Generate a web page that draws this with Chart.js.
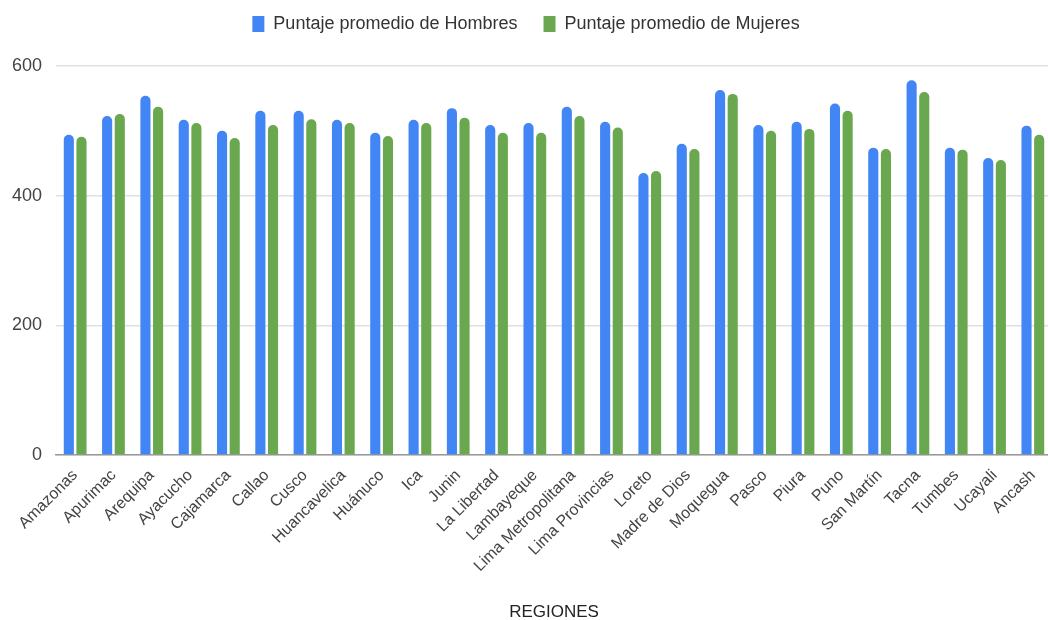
<!DOCTYPE html>
<html>
<head>
<meta charset="utf-8">
<script src="https://cdn.jsdelivr.net/npm/chart.js@4"></script>
<style>
    html, body { margin: 0; padding: 0; background: #fff; overflow: hidden; }
    #wrap { width: 1056px; height: 620px; }
</style>
</head>
<body>
<div id="wrap"><canvas id="barChart"></canvas></div>
<script>
// Datos
const regiones = ["Amazonas", "Apurimac", "Arequipa", "Ayacucho", "Cajamarca", "Callao", "Cusco",
    "Huancavelica", "Huánuco", "Ica", "Junin", "La Libertad", "Lambayeque", "Lima Metropolitana",
    "Lima Provincias", "Loreto", "Madre de Dios", "Moquegua", "Pasco", "Piura", "Puno",
    "San Martín", "Tacna", "Tumbes", "Ucayali", "Ancash"];

const puntajeHombres = [494, 523, 554, 517, 500, 531, 531, 517, 497, 517, 535, 509, 512, 537,
    514, 435, 480, 563, 509, 514, 542, 474, 578, 474, 458, 508];

const puntajeMujeres = [491, 526, 537, 512, 489, 509, 518, 512, 492, 512, 520, 497, 497, 523,
    505, 438, 472, 557, 500, 503, 531, 472, 560, 471, 455, 494];

const ticksY = [0, 200, 400, 600];

const fuente = "'Liberation Sans', Arial, sans-serif";

// espacio extra debajo de la leyenda
const legendGap = {
    id: 'legendGap',
    beforeInit(chart) {
        const fit = chart.legend.fit;
        chart.legend.fit = function () {
            fit.call(this);
            this.height += 23;
        };
    }
};

function createChart() {
    let ctx = document.getElementById('barChart').getContext('2d');
    let barChart = new Chart(ctx, {
        type: 'bar',
        data: {
            labels: regiones,
            datasets: [{
                label: 'Puntaje promedio de Hombres',
                data: puntajeHombres,
                backgroundColor: '#4285f4',
                borderRadius: { topLeft: 5, topRight: 5 },
                borderSkipped: 'start',
                barPercentage: 0.8,
                categoryPercentage: 0.66
            }, {
                label: 'Puntaje promedio de Mujeres',
                data: puntajeMujeres,
                backgroundColor: '#6aa84f',
                borderRadius: { topLeft: 5, topRight: 5 },
                borderSkipped: 'start',
                barPercentage: 0.8,
                categoryPercentage: 0.66
            }]
        },
        plugins: [legendGap],
        options: {
            responsive: true,
            maintainAspectRatio: false,
            animation: false,
            layout: { padding: { top: -11, left: 0, right: 4, bottom: -3 } },
            plugins: {
                legend: {
                    position: 'top',
                    labels: {
                        boxWidth: 12,
                        boxHeight: 16,
                        padding: 26,
                        color: '#333',
                        font: { family: fuente, size: 18 }
                    }
                },
                tooltip: { enabled: false }
            },
            scales: {
                x: {
                    grid: { display: false },
                    border: { color: '#999', width: 1.5 },
                    afterFit: scale => { scale.height = 168; },
                    ticks: {
                        minRotation: 45,
                        maxRotation: 45,
                        autoSkip: false,
                        color: '#444',
                        font: { family: fuente, size: 16 }
                    },
                    title: {
                        display: true,
                        text: 'REGIONES',
                        color: '#222',
                        font: { family: fuente, size: 17 },
                        padding: { top: 4, bottom: 0 }
                    }
                },
                y: {
                    min: 0,
                    max: 600,
                    afterBuildTicks: axis => { axis.ticks = ticksY.map(v => ({ value: v })); },
                    afterFit: scale => { scale.width = 56; },
                    grid: { color: '#e0e0e0', lineWidth: 1.5, drawTicks: false },
                    border: { display: false },
                    ticks: {
                        padding: 14,
                        color: '#444',
                        font: { family: fuente, size: 18 }
                    }
                }
            }
        }
    });
}

createChart();
</script>
</body>
</html>
